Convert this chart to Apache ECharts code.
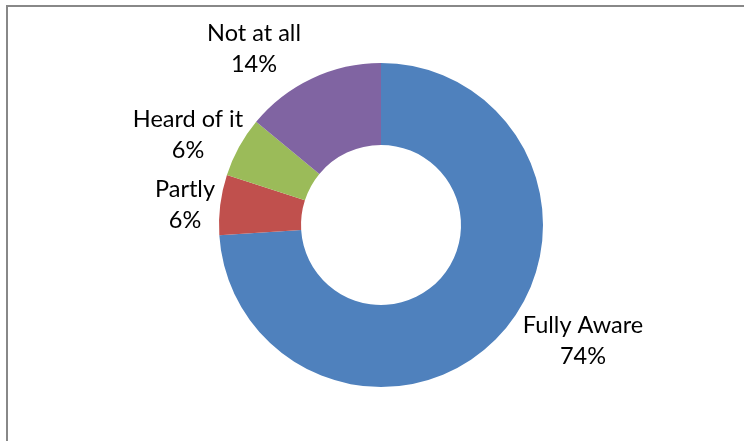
<!DOCTYPE html>
<html>
<head>
<meta charset="utf-8">
<script src="https://cdn.jsdelivr.net/npm/echarts@6/dist/echarts.min.js"></script>
<style>
  html, body { margin: 0; padding: 0; background: #fff; }
  #chart { width: 744px; height: 441px; }
</style>
</head>
<body>
<div id="chart"></div>
<script>
// Awareness levels and their shares (percent)
const categories = ['Fully Aware', 'Partly', 'Heard of it', 'Not at all'];
const shares = [74, 6, 6, 14];
const colors = ['#4F81BD', '#C0504D', '#9BBB59', '#8064A2'];

// Where each two-line label block is centred
const labelSpots = [[583, 341], [185, 205], [188, 135], [254, 49]];

const chart = echarts.init(document.getElementById('chart'));

chart.setOption({
  animation: false,
  graphic: [
    { type: 'line', shape: { x1: 7, y1: 5, x2: 7, y2: 441 }, style: { stroke: '#888888', lineWidth: 2 } },
    { type: 'line', shape: { x1: 6, y1: 6, x2: 744, y2: 6 }, style: { stroke: '#888888', lineWidth: 2 } }
  ],
  series: [{
    type: 'pie',
    center: [381, 225],
    radius: [80, 162],
    startAngle: 90,
    clockwise: true,
    silent: true,
    data: categories.map((name, i) => ({
      name: name,
      value: shares[i],
      itemStyle: { color: colors[i] }
    })),
    label: {
      show: true,
      position: 'outside',
      formatter: p => p.name + '\n' + p.value + '%',
      fontFamily: 'Lato',
      fontSize: 23.5,
      lineHeight: 31,
      color: '#000',
      align: 'center'
    },
    labelLine: { show: false },
    labelLayout: function (params) {
      const spot = labelSpots[params.dataIndex];
      return { x: spot[0], y: spot[1], align: 'center', verticalAlign: 'middle' };
    }
  }]
});
</script>
</body>
</html>
